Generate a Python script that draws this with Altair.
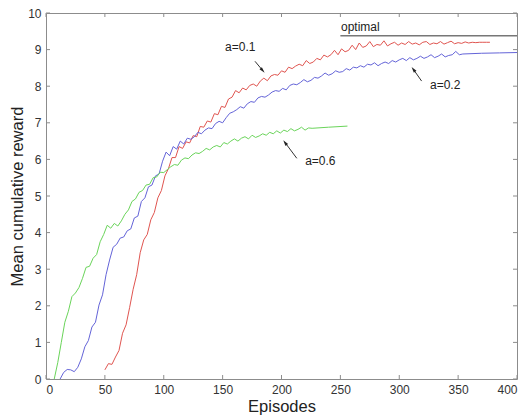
import altair as alt
import pandas as pd

# ---------------- data ----------------
STEP = 3
red_x0 = 50
red_y = [0.25, 0.42, 0.40, 0.60, 0.78, 1.25, 1.48, 1.95, 2.45, 2.85,
         3.45, 3.80, 3.95, 4.35, 4.55, 4.95, 5.15, 5.55, 5.75, 6.05,
         6.05, 6.35, 6.30, 6.48, 6.45, 6.65, 6.62, 6.90, 6.88, 7.05,
         7.02, 7.25, 7.22, 7.45, 7.42, 7.65, 7.70, 7.88, 7.82, 7.95,
         7.90,
         8.02, 8.06, 8.00, 8.14, 8.22, 8.15, 8.28, 8.32, 8.30, 8.42,
         8.38, 8.52, 8.48, 8.55, 8.60, 8.56, 8.70, 8.62, 8.66, 8.76,
         8.72, 8.85, 8.80, 8.86, 8.98, 8.86, 9.02, 8.94, 8.98, 9.12,
         9.00, 9.18, 9.06, 9.10, 9.22, 9.08, 9.14, 9.12, 9.24, 9.10,
         9.16, 9.20, 9.12, 9.18, 9.14, 9.22, 9.15, 9.18, 9.13, 9.20,
         9.22, 9.14, 9.18, 9.16, 9.22, 9.15, 9.19, 9.23, 9.16, 9.19,
         9.17, 9.21, 9.18, 9.20, 9.19, 9.20, 9.20, 9.20, 9.20]
red_tail_x = []
red_tail_y = []

blue_x0 = 12
blue_y = [0.00, 0.18, 0.26, 0.25, 0.20, 0.32, 0.55, 0.88, 1.05, 1.42,
          1.55, 2.02, 2.30, 2.85, 3.25, 3.60, 3.68, 3.85, 3.88, 4.05,
          4.10, 4.40, 4.45, 4.85, 4.95, 5.25, 5.30, 5.55, 5.60, 5.95,
          6.20, 6.10, 6.35, 6.28, 6.50, 6.42,
          6.58, 6.55, 6.62, 6.74, 6.70, 6.80, 6.86, 6.84, 6.98, 7.04,
          7.00, 7.14, 7.26, 7.30, 7.36, 7.44, 7.40, 7.52, 7.58, 7.56,
          7.68, 7.72, 7.70, 7.76, 7.84, 7.88, 7.86, 7.94, 7.90, 8.02,
          8.06, 8.04, 8.10, 8.18, 8.12, 8.16, 8.24, 8.22, 8.28, 8.36,
          8.30, 8.34, 8.42, 8.38, 8.40, 8.48, 8.44, 8.52, 8.50, 8.56,
          8.52, 8.60, 8.58, 8.64, 8.56, 8.62, 8.66, 8.62, 8.70, 8.66,
          8.72, 8.76, 8.70, 8.78, 8.72, 8.76, 8.82, 8.76, 8.80, 8.86,
          8.78, 8.82, 8.88, 8.80, 8.84, 8.86, 8.95, 8.86, 8.88]
blue_tail_x = [370, 385, 400]
blue_tail_y = [8.90, 8.91, 8.92]

green_x0 = 7
green_y = [0.00, 0.45, 1.00, 1.55, 1.85, 2.25, 2.35, 2.50, 2.75, 3.05,
           3.08, 3.30, 3.40, 3.75, 3.95, 4.20, 4.12, 4.25, 4.18, 4.32,
           4.50, 4.62, 4.85, 4.92, 5.10, 5.15, 5.30, 5.32, 5.50, 5.52,
           5.65,
           5.64, 5.72, 5.80, 5.86, 5.84, 5.98, 6.04, 6.02, 6.12, 6.18,
           6.16, 6.22, 6.30, 6.26, 6.34, 6.38, 6.34, 6.46, 6.42, 6.50,
           6.56, 6.50, 6.58, 6.62, 6.56, 6.66, 6.60, 6.64, 6.70, 6.66,
           6.74, 6.70, 6.78, 6.72, 6.80, 6.76, 6.84, 6.78, 6.82, 6.88,
           6.80, 6.86, 6.85]
green_tail_x = [240, 256]
green_tail_y = [6.88, 6.91]

series_names = ["a=0.1", "a=0.2", "a=0.6"]
series_colors = ["#e05550", "#6464d8", "#6ad45a"]

optimal_x = [250, 400]
optimal_y = [9.38, 9.38]

label_text = ["a=0.1", "a=0.2", "a=0.6", "optimal"]
label_x = [165, 339, 233, 250.5]
label_y = [9.08, 8.03, 5.95, 9.62]
label_align = ["center", "center", "center", "left"]

arrow_x_start = [177.5, 319, 213]
arrow_y_start = [8.68, 8.14, 6.03]
arrow_x_head = [184, 312, 203]
arrow_y_head = [8.43, 8.46, 6.46]
arrow_angle = [138, 323, 323]

x_ticks = [0, 50, 100, 150, 200, 250, 300, 350, 400]
y_ticks = [0, 1, 2, 3, 4, 5, 6, 7, 8, 9, 10]

# ---------------- build tables ----------------
rows = []
for name, x0, ys, tx, ty in [
    ("a=0.1", red_x0, red_y, red_tail_x, red_tail_y),
    ("a=0.2", blue_x0, blue_y, blue_tail_x, blue_tail_y),
    ("a=0.6", green_x0, green_y, green_tail_x, green_tail_y),
]:
    for i, v in enumerate(ys):
        rows.append({"series": name, "episode": x0 + STEP * i, "reward": v})
    for a, b in zip(tx, ty):
        rows.append({"series": name, "episode": a, "reward": b})
df = pd.DataFrame(rows)

opt_df = pd.DataFrame({"episode": optimal_x, "reward": optimal_y})
lab_df = pd.DataFrame({"episode": label_x, "reward": label_y, "text": label_text, "align": label_align})
arr_df = pd.DataFrame({"episode": arrow_x_start, "reward": arrow_y_start,
                       "episode2": arrow_x_head, "reward2": arrow_y_head,
                       "ang": arrow_angle})
xt_df = pd.DataFrame({"episode": x_ticks})
yt_df = pd.DataFrame({"reward": y_ticks})

W, H = 471, 366
FRAME = "#8c8c8c"
FONT = "Liberation Sans"

xs = alt.Scale(domain=[0, 400], nice=False)
ys = alt.Scale(domain=[0, 10], nice=False)

x_axis = alt.Axis(values=x_ticks, grid=False, domain=False, ticks=False,
                  labelPadding=5, titlePadding=3, labelOverlap=False,
                  labelFont=FONT, labelFontSize=12, labelColor="#333333",
                  titleFont=FONT, titleFontSize=16.5, titleFontWeight="normal",
                  titleColor="#222222")
y_axis = alt.Axis(values=y_ticks, grid=False, domain=False, ticks=False,
                  labelPadding=5, titlePadding=2, labelOverlap=False,
                  labelFont=FONT, labelFontSize=12, labelColor="#333333",
                  titleFont=FONT, titleFontSize=16.5, titleFontWeight="normal",
                  titleColor="#222222")
X_TITLE = "Episodes"
Y_TITLE = "Mean cumulative reward"


def X(f):
    return alt.X(f, scale=xs, axis=x_axis, title=X_TITLE)


def Y(f):
    return alt.Y(f, scale=ys, axis=y_axis, title=Y_TITLE)


lines = alt.Chart(df).mark_line(strokeWidth=1).encode(
    x=X("episode:Q"), y=Y("reward:Q"),
    color=alt.Color("series:N", scale=alt.Scale(domain=series_names, range=series_colors), legend=None),
    detail="series:N",
)

opt = alt.Chart(opt_df).mark_line(color="#777777", strokeWidth=1.5).encode(
    x=X("episode:Q"), y=Y("reward:Q"))

txt_c = alt.Chart(lab_df[lab_df["align"] == "center"]).mark_text(
    align="center", baseline="middle", fontSize=12, font=FONT, color="#222222").encode(
    x=X("episode:Q"), y=Y("reward:Q"), text="text:N")
txt_l = alt.Chart(lab_df[lab_df["align"] == "left"]).mark_text(
    align="left", baseline="middle", fontSize=12, font=FONT, color="#222222").encode(
    x=X("episode:Q"), y=Y("reward:Q"), text="text:N")

arr_line = alt.Chart(arr_df).mark_rule(color="#333333", strokeWidth=1).encode(
    x=X("episode:Q"), y=Y("reward:Q"), x2="episode2:Q", y2="reward2:Q")
arr_head = alt.Chart(arr_df).mark_point(
    shape="M0,-1L0.55,1L-0.55,1Z", filled=True, color="#222222", size=35, opacity=1).encode(
    x=X("episode2:Q"), y=Y("reward2:Q"), angle=alt.Angle("ang:Q", scale=None))

tb = alt.Chart(xt_df).mark_rule(color=FRAME).encode(
    x=X("episode:Q"), y=alt.value(H), y2=alt.value(H - 4))
tt = alt.Chart(xt_df).mark_rule(color=FRAME).encode(
    x=X("episode:Q"), y=alt.value(0), y2=alt.value(4))
tl = alt.Chart(yt_df).mark_rule(color=FRAME).encode(
    y=Y("reward:Q"), x=alt.value(0), x2=alt.value(4))
tr = alt.Chart(yt_df).mark_rule(color=FRAME).encode(
    y=Y("reward:Q"), x=alt.value(W), x2=alt.value(W - 4))

chart = alt.layer(lines, opt, tb, tt, tl, tr, arr_line, arr_head, txt_c, txt_l).properties(
    width=W, height=H,
    autosize="none",
    padding={"left": 38, "top": 5, "right": 3, "bottom": 41},
    background="white",
).configure_view(stroke=FRAME, strokeWidth=1)

chart.save("out.html", embed_options={"renderer": "svg", "actions": False})
